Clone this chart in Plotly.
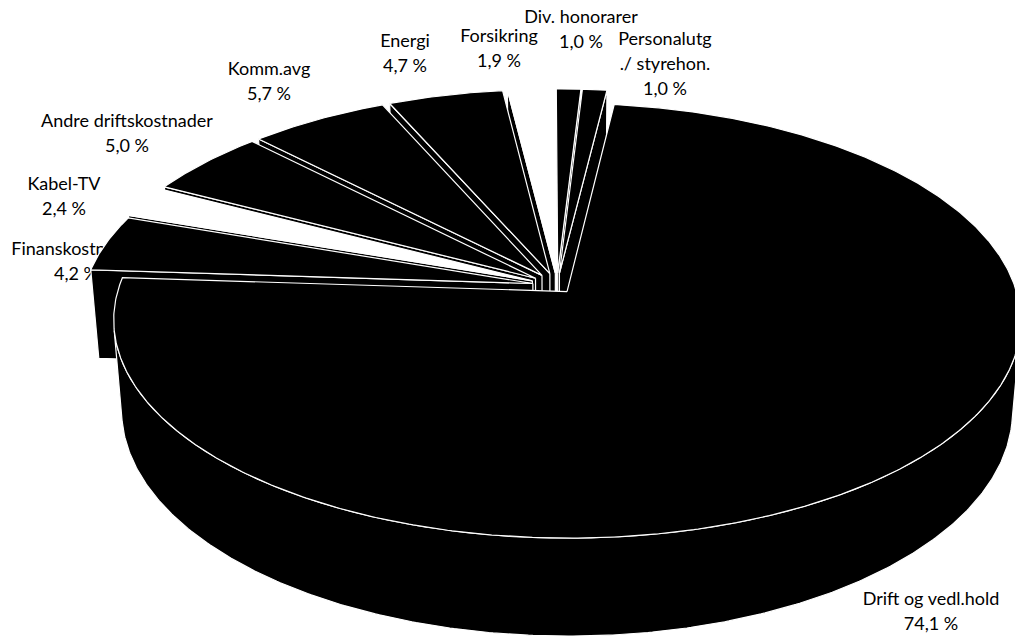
import numpy as np
import plotly.graph_objects as go

# ---------------- data ----------------
categories = ["Drift og vedl.hold", "Finanskostnader", "Kabel-TV", "Andre driftskostnader",
              "Komm.avg", "Energi", "Forsikring", "Div. honorarer", "Personalutg ./ styrehon."]
values = [74.1, 4.2, 2.4, 5.0, 5.7, 4.7, 1.9, 1.0, 1.0]
label_lines = [["Drift og vedl.hold"], ["Finanskostnader"], ["Kabel-TV"], ["Andre driftskostnader"],
               ["Komm.avg"], ["Energi"], ["Forsikring"], ["Div. honorarer"], ["Personalutg", "./ styrehon."]]

# ---------------- styles / layout ----------------
top_colors = ["#000000", "#000000", "#ffffff", "#000000", "#000000", "#000000", "#ffffff", "#000000", "#000000"]
side_color = "#000000"
edge_color = "#ffffff"
explode = [0.035, 0.055, 0.06, 0.06, 0.06, 0.06, 0.06, 0.06, 0.06]
label_pos = [(931, 600), (76, 250), (64, 185), (127, 122), (269, 70), (405, 42), (499, 37), (581, 18), (665, 40)]
LINE_H = 25
FONT = "Lato"
FSIZE = 18

START = 7.0            # first slice angle (deg, clockwise from back)
PHI = np.radians(30.0) # elevation
DIST = 6.6             # perspective distance
SCALE = 440.0
CX, CY = 557.0, 375.0
HEIGHT = 0.23
sp, cp = np.sin(PHI), np.cos(PHI)
CAM = np.array([0.0, -DIST * cp, DIST * sp])


def proj(X, Y, Z):
    X, Y, Z = np.asarray(X, float), np.asarray(Y, float), np.asarray(Z, float)
    v = Y * sp + Z * cp
    w = -Y * cp + Z * sp
    s = DIST / (DIST - w)
    return CX + SCALE * X * s, CY - SCALE * v * s


fig = go.Figure()

# labels first so slices may cover them
for lines, val, (lx, ly) in zip(label_lines, values, label_pos):
    txt = lines + [f"{val:.1f} %".replace(".", ",")]
    fig.add_trace(go.Scatter(
        x=[lx] * len(txt), y=[ly + k * LINE_H for k in range(len(txt))],
        text=txt, mode="text", textposition="middle center",
        textfont=dict(family=FONT, size=FSIZE, color="#000000"),
        hoverinfo="skip", showlegend=False))

total = sum(values)
cum = np.concatenate([[0], np.cumsum(values)]) / total * 360.0 + START


def poly(xs, ys, fill):
    fig.add_trace(go.Scatter(
        x=list(xs) + [xs[0]], y=list(ys) + [ys[0]], mode="lines", fill="toself",
        fillcolor=fill, line=dict(color=edge_color, width=1.2),
        hoverinfo="skip", showlegend=False))


slices = []
for i in range(len(values)):
    t1, t2 = np.radians(cum[i]), np.radians(cum[i + 1])
    mid = (t1 + t2) / 2
    ox, oy = explode[i] * np.sin(mid), explode[i] * np.cos(mid)
    cen = np.array([ox + 0.5 * np.sin(mid), oy + 0.5 * np.cos(mid), HEIGHT / 2])
    depth = np.linalg.norm(CAM - cen)
    slices.append((depth, i, t1, t2, ox, oy))

slices.sort(key=lambda s: -s[0])

for depth, i, t1, t2, ox, oy in slices:
    # radial faces
    for t, sign in ((t1, -1), (t2, 1)):
        a = t + sign * np.pi / 2
        n = np.array([np.sin(a), np.cos(a), 0.0])
        p = np.array([ox + 0.5 * np.sin(t), oy + 0.5 * np.cos(t), HEIGHT / 2])
        if n @ (CAM - p) > 0:
            X = [ox, ox + np.sin(t), ox + np.sin(t), ox]
            Y = [oy, oy + np.cos(t), oy + np.cos(t), oy]
            Z = [HEIGHT, HEIGHT, 0, 0]
            px, py = proj(X, Y, Z)
            poly(px, py, side_color)
    # outer curved side (visible runs)
    ts = np.linspace(t1, t2, max(int(np.degrees(t2 - t1) * 2), 4))
    vis = []
    for t in ts:
        n = np.array([np.sin(t), np.cos(t), 0.0])
        p = np.array([ox + np.sin(t), oy + np.cos(t), HEIGHT / 2])
        vis.append(n @ (CAM - p) > 0)
    vis = np.array(vis)
    runs, start = [], None
    for k, v in enumerate(vis):
        if v and start is None:
            start = k
        if (not v or k == len(vis) - 1) and start is not None:
            end = k if v else k - 1
            if end > start:
                runs.append((start, end))
            start = None
    for a, b in runs:
        tt = ts[a:b + 1]
        xt, yt = proj(ox + np.sin(tt), oy + np.cos(tt), np.full_like(tt, HEIGHT))
        xb, yb = proj(ox + np.sin(tt), oy + np.cos(tt), np.zeros_like(tt))
        poly(np.concatenate([xt, xb[::-1]]), np.concatenate([yt, yb[::-1]]), side_color)
    # top face
    xa, ya = proj(ox + np.sin(ts), oy + np.cos(ts), np.full_like(ts, HEIGHT))
    x0, y0 = proj(ox, oy, HEIGHT)
    poly(np.concatenate([[x0], xa]), np.concatenate([[y0], ya]), top_colors[i])

fig.update_layout(
    width=1015, height=639, margin=dict(l=0, r=0, t=0, b=0),
    paper_bgcolor="white", plot_bgcolor="white", showlegend=False,
    xaxis=dict(range=[0, 1015], visible=False, fixedrange=True),
    yaxis=dict(range=[639, 0], visible=False, fixedrange=True),
)
fig.write_html("out.html")
